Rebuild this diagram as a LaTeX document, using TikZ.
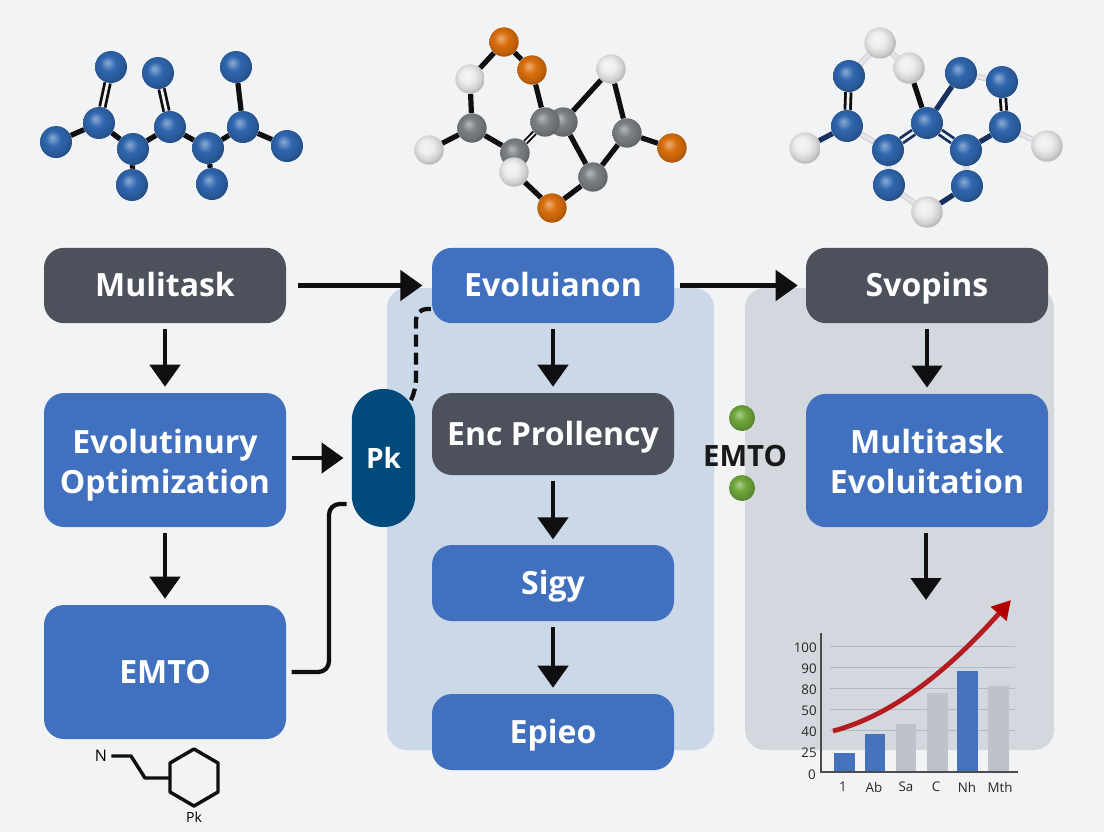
\documentclass[tikz,border=0pt]{standalone}
\usepackage{fontspec}
\setmainfont{Open Sans}
\usetikzlibrary{arrows.meta,shapes.misc}
\definecolor{pagebg}{HTML}{F2F3F4}
\definecolor{boxblue}{HTML}{4070BE}
\definecolor{boxdark}{HTML}{4C515C}
\definecolor{pkblue}{HTML}{004A7C}
\definecolor{panelblue}{HTML}{CBD8E8}
\definecolor{panelgray}{HTML}{D3D7DE}
\definecolor{inkc}{HTML}{0F0F12}
\definecolor{barblue}{HTML}{4472BC}
\definecolor{bargray}{HTML}{BEC2CB}
\definecolor{gridc}{HTML}{B4B8C0}
\definecolor{redc}{HTML}{B41C22}
\definecolor{atomblue}{HTML}{2F66AE}
\definecolor{atomgray}{HTML}{7C8084}
\definecolor{atomwhite}{HTML}{ECEDEE}
\definecolor{atomorange}{HTML}{DA6E0C}
\definecolor{atomgreen}{HTML}{6FA63A}
\definecolor{bonddark}{HTML}{17315F}
\definecolor{bondlight}{HTML}{E4E5E8}
\newcommand{\declball}[2]{\pgfdeclareradialshading{#1}{\pgfpoint{-6bp}{7bp}}{%
 color(0bp)=(#2!55!white); color(12bp)=(#2); color(22bp)=(#2!88!black); color(30bp)=(#2!72!black); color(50bp)=(#2!72!black)}}
\declball{ballblue}{atomblue}
\declball{ballgray}{atomgray}
\declball{ballwhite}{atomwhite}
\declball{ballorange}{atomorange}
\declball{ballgreen}{atomgreen}
\newcommand{\topst}{\rule{0pt}{23pt}}
\newcommand{\toptw}{\rule{0pt}{26pt}}
\newcommand{\botst}{\rule[-6pt]{0pt}{6pt}}
\pgfdeclarelayer{pagefill}
\pgfdeclarelayer{panels}
\pgfdeclarelayer{bonds}
\pgfsetlayers{pagefill,panels,bonds,main}
\tikzset{
 x=0.75pt,y=-0.75pt,
 flowbox/.style={rounded corners=15pt,inner sep=0pt,align=center,text=white,font=\fontsize{24}{30}\selectfont\bfseries,minimum width=181.5pt},
 bluebox/.style={flowbox,fill=boxblue},
 darkbox/.style={flowbox,fill=boxdark},
 panelbox/.style={rounded corners=15pt,inner sep=0pt},
 arrow/.style={draw=inkc,line width=3.5pt,-{Triangle[length=16.5pt,width=22.5pt]}},
 link/.style={draw=inkc,line width=3.2pt,rounded corners=8pt},
 bond/.style={draw=inkc,line width=3.9pt},
 dbond/.style={draw=inkc,line width=2.1pt,double=pagebg,double distance=2pt},
 lbond/.style={draw=black!28,line width=0.4pt,double=bondlight,double distance=3.2pt},
 nbond/.style={draw=bonddark,line width=3.9pt},
 ndbond/.style={draw=bonddark,line width=2.1pt,double=pagebg,double distance=2pt},
 atom/.style={circle,inner sep=0pt,minimum size=#1},
 abs/.style={atom=24pt,shading=ballblue},
 ag/.style={atom=22pt,shading=ballgray},
 aw/.style={atom=22pt,shading=ballwhite},
 ao/.style={atom=22pt,shading=ballorange},
 awl/.style={atom=23.5pt,shading=ballwhite},
 dot/.style={atom=19.5pt,shading=ballgreen},
 axisl/.style={font=\fontsize{10}{12}\selectfont,text=black!85,inner sep=0pt},
 bar/.style={inner sep=0pt,anchor=south,minimum width=15.5pt},
}
\begin{document}
\begin{tikzpicture}
\useasboundingbox (0,0) rectangle (1104,832);
\begin{pgfonlayer}{pagefill}
\fill[pagebg] (0,0) rectangle (1104,832);
\end{pgfonlayer}
% panels
\begin{pgfonlayer}{panels}
\node[panelbox,fill=panelblue,minimum width=245.25pt,minimum height=346.5pt] (pmid) at (550.5,519) {};
\node[panelbox,fill=panelgray,minimum width=231.75pt,minimum height=346.5pt] (pright) at (899.5,519) {};
\end{pgfonlayer}
% flow boxes
\node[darkbox,minimum height=56.5pt] (mt) at (165,285.5) {\topst Mulitask\botst};
\node[bluebox,minimum height=100.5pt] (eo) at (165,460) {\toptw Evolutinury\\Optimization\botst};
\node[bluebox,minimum height=100.5pt] (em) at (165,672) {\topst EMTO\botst};
\node[bluebox,minimum height=56.5pt] (ev) at (553,285.5) {\topst Evoluianon\botst};
\node[darkbox,minimum height=61.5pt] (ep) at (553,434) {\topst Enc Prollency\botst};
\node[bluebox,minimum height=57pt] (sg) at (553,583) {\topst Sigy\botst};
\node[bluebox,minimum height=57pt] (ei) at (553,732) {\topst Epieo\botst};
\node[darkbox,minimum height=56.5pt] (sv) at (927,285.5) {\topst Svopins\botst};
\node[bluebox,minimum height=100pt] (me) at (927,460.5) {\toptw Multitask\\Evoluitation\botst};
\node[rounded corners=23.5pt,fill=pkblue,text=white,inner sep=0pt,minimum width=47.5pt,minimum height=103.5pt,font=\fontsize{21}{24}\selectfont\bfseries] (pk) at (383.5,458) {Pk};
% arrows
\draw[arrow,shorten <=9pt,shorten >=7pt] (mt) -- (ev);
\draw[arrow,shorten <=4.5pt,shorten >=6pt] (ev) -- (sv);
\draw[arrow,shorten <=4.5pt,shorten >=4.5pt] (mt) -- (eo.north);
\draw[arrow,shorten <=4.5pt,shorten >=4.5pt] (eo.south) -- (em);
\draw[arrow,shorten <=4pt,shorten >=6pt] (eo.east |- pk) -- (pk);
\draw[arrow,shorten <=4.5pt,shorten >=4.5pt] (ev) -- (ep);
\draw[arrow,shorten <=4pt,shorten >=4pt] (ep) -- (sg);
\draw[arrow,shorten <=4.5pt,shorten >=4.5pt] (sg) -- (ei);
\draw[arrow,shorten <=4.5pt,shorten >=4.5pt] (sv) -- (me.north);
\coordinate (meout) at (926,600);
\draw[arrow,shorten <=4.5pt] (me.south -| meout) -- (meout);
% links
\coordinate (l1) at (329,672);
\coordinate (l2) at (329,504);
\coordinate (l3) at (352,504);
\draw[link,shorten <=4pt,shorten >=4pt] (em.east) -- (l1) -- (l2) -- (l3);
\coordinate (d0) at (411,400);
\coordinate (d1) at (416,390);
\coordinate (d2) at (416,309);
\coordinate (d3) at (432,309);
\draw[link,dash pattern=on 9pt off 4.5pt] (d0) -- (d1) -- (d2) -- (d3);
% EMTO side label
\node[dot] (gd1) at (742,418) {};
\node[dot] (gd2) at (742,488) {};
\node[font=\fontsize{22}{24}\selectfont\bfseries,text=black!90,inner sep=0pt] (emtol) at (745,456) {EMTO};
% molecule 1
\node[abs] (a1) at (111,67) {};
\node[abs] (a2) at (158,73) {};
\node[abs] (a3) at (236,67) {};
\node[abs] (a4) at (99,123) {};
\node[abs] (a5) at (56,142) {};
\node[abs] (a6) at (133,149) {};
\node[abs] (a7) at (170,127) {};
\node[abs] (a8) at (208,148) {};
\node[abs] (a9) at (243,127) {};
\node[abs] (a10) at (287,146) {};
\node[abs] (a11) at (132,185) {};
\node[abs] (a12) at (212,184) {};
\begin{pgfonlayer}{bonds}
\draw[dbond] (a1) -- (a4);
\draw[dbond] (a2) -- (a7);
\draw[bond] (a3) -- (a9);
\draw[bond] (a4) -- (a5);
\draw[bond] (a4) -- (a6);
\draw[bond] (a6) -- (a7);
\draw[bond] (a7) -- (a8);
\draw[bond] (a8) -- (a9);
\draw[bond] (a9) -- (a10);
\draw[bond] (a6) -- (a11);
\draw[bond] (a8) -- (a12);
\end{pgfonlayer}
% molecule 2
\node[ao] (o1) at (504,42) {};
\node[ao] (o2) at (532,70) {};
\node[aw] (w1) at (470,79) {};
\node[aw] (w2) at (611,69) {};
\node[ag] (g1) at (472,128) {};
\node[ag] (g3) at (563,122) {};
\node[ag] (g2) at (545,122) {};
\node[ag] (g4) at (627,133) {};
\node[aw] (w3) at (429,150) {};
\node[ag] (g5) at (515,153) {};
\node[aw] (w4) at (514,172) {};
\node[ag] (g6) at (593,177) {};
\node[ao] (o3) at (552,208) {};
\node[ao] (o4) at (672,148) {};
\begin{pgfonlayer}{bonds}
\draw[bond] (o1) -- (w1);
\draw[bond] (o1) -- (o2);
\draw[bond] (o2) -- (g2);
\draw[bond] (w1) -- (g1);
\draw[bond] (g1) -- (w3);
\draw[bond] (g1) -- (g5);
\draw[dbond,line width=1.5pt,double distance=1.2pt] (g5) -- (g2);
\draw[bond] (g3) -- (w2);
\draw[bond] (w2) -- (g4);
\draw[bond] (g4) -- (o4);
\draw[bond] (g4) -- (g6);
\draw[bond] (g3) -- (g6);
\draw[bond] (g6) -- (o3);
\draw[bond] (o3) -- (w4);
\end{pgfonlayer}
% molecule 3
\node[awl] (x1) at (880,43) {};
\node[awl] (x2) at (909,68) {};
\node[abs] (b1) at (849,76) {};
\node[abs] (b2) at (961,73) {};
\node[abs] (b3) at (1002,82) {};
\node[abs] (b4) at (847,126) {};
\node[abs] (b5) at (927,123) {};
\node[abs] (b6) at (1005,127) {};
\node[awl] (x3) at (805,148) {};
\node[abs] (b7) at (888,150) {};
\node[abs] (b8) at (966,150) {};
\node[awl] (x4) at (1047,146) {};
\node[abs] (b9) at (889,185) {};
\node[abs] (b10) at (967,186) {};
\node[awl] (x5) at (927,212) {};
\begin{pgfonlayer}{bonds}
\draw[lbond] (b1) -- (x1);
\draw[lbond] (x1) -- (x2);
\draw[bond] (x2) -- (b5);
\draw[nbond] (b5) -- (b2);
\draw[lbond] (b2) -- (b3);
\draw[dbond] (b3) -- (b6);
\draw[dbond] (b1) -- (b4);
\draw[nbond] (b4) -- (x3);
\draw[lbond] (b4) -- (b7);
\draw[ndbond] (b7) -- (b5);
\draw[ndbond] (b5) -- (b8);
\draw[nbond] (b8) -- (b6);
\draw[lbond] (b6) -- (x4);
\draw[lbond] (b7) -- (b9);
\draw[lbond] (b8) -- (b10);
\draw[lbond] (b9) -- (x5);
\draw[nbond] (b10) -- (x5);
\end{pgfonlayer}
% small structural formula
\node[font=\fontsize{12}{14}\selectfont,inner sep=0pt] (nn) at (101,756) {N};
\coordinate (s1) at (131,756);
\coordinate (s2) at (145,778);
\coordinate (h1) at (194,749);
\coordinate (h2) at (218,763);
\coordinate (h3) at (218,792);
\coordinate (h4) at (194,806);
\coordinate (h5) at (170,792);
\coordinate (h6) at (170,763);
\coordinate (h7) at (170,778);
\draw[draw=inkc,line width=2.6pt,line join=round,shorten <=3pt] (nn) -- (s1) -- (s2) -- (h7);
\draw[draw=inkc,line width=2.6pt,line join=round] (h1) -- (h2) -- (h3) -- (h4) -- (h5) -- (h6) -- cycle;
\node[font=\fontsize{10.5}{12}\selectfont,inner sep=0pt] (pkl) at (194,817) {Pk};
% chart
\coordinate (ax0) at (821,772);
\coordinate (axt) at (821,633);
\coordinate (axr) at (1018,772);
\foreach \yy/\nm in {646/g100,667/g90,688/g80,709/g50,730/g40}{
 \coordinate (\nm a) at (830,\yy);
 \coordinate (\nm b) at (1015,\yy);
 \draw[gridc,line width=0.7pt] (\nm a) -- (\nm b);
}
\node[bar,fill=barblue,minimum height=14.25pt] (bar1) at (844.5,772) {};
\node[bar,fill=barblue,minimum height=28.5pt] (bar2) at (875,772) {};
\node[bar,fill=bargray,minimum height=36pt] (bar3) at (906,772) {};
\node[bar,fill=bargray,minimum height=59.25pt] (bar4) at (937.5,772) {};
\node[bar,fill=barblue,minimum height=75.75pt] (bar5) at (967.5,772) {};
\node[bar,fill=bargray,minimum height=64.5pt] (bar6) at (998.5,772) {};
\draw[black!70,line width=1pt] (axt) -- (ax0) -- (axr);
\foreach \yy/\tt/\nm in {648/100/yl1,669/90/yl2,690/80/yl3,711/50/yl4,732/40/yl5,753/25/yl6}{
 \node[axisl,anchor=east] (\nm) at (817,\yy) {\tt};
}
\node[axisl,anchor=east] (yl7) at (816,775) {0};
\foreach \xx/\tt/\nm in {843/1/xl1,874/Ab/xl2,906/Sa/xl3,936/C/xl4,967/Nh/xl5,1000/Mth/xl6}{
 \node[axisl] (\nm) at (\xx,787) {\tt};
}
\coordinate (r0) at (833,731);
\coordinate (r1) at (1011,600);
\draw[draw=redc,line width=3.6pt,-{Triangle[length=14pt,width=15pt,color=red!70!black]}] (r0) .. controls (890,716) and (945,674) .. (r1);
\end{tikzpicture}
\end{document}
